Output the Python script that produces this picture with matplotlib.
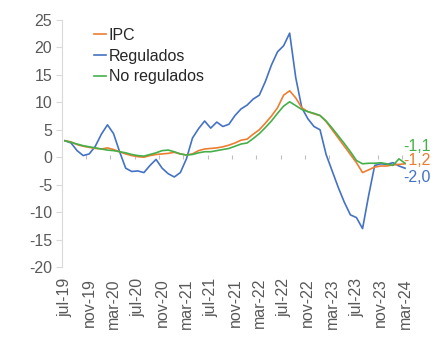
import matplotlib
matplotlib.use("Agg")
import matplotlib.pyplot as plt
import numpy as np

plt.rcParams['font.family'] = ['Liberation Sans', 'DejaVu Sans']

months_es = ["ene", "feb", "mar", "abr", "may", "jun", "jul", "ago", "sep", "oct", "nov", "dic"]
start_year, start_month = 2019, 7  # jul-19
n_points = 57  # jul-19 .. mar-24

regulados = [3.0, 2.6, 1.2, 0.3, 0.6, 2.0, 4.2, 5.9, 4.3, 1.0,
             -2.0, -2.6, -2.5, -2.8, -1.5, -0.4, -2.0, -3.0, -3.6, -2.8,
             -0.3, 3.5, 5.2, 6.6, 5.3, 6.4, 5.6, 6.0, 7.6, 8.8,
             9.5, 10.6, 11.3, 13.8, 16.8, 19.2, 20.3, 22.6, 14.5, 9.0,
             7.0, 5.6, 5.0, 0.5, -2.5, -5.5, -8.2, -10.5, -11.0, -13.0,
             -7.0, -1.5, -1.2, -1.3, -1.0, -1.6, -2.0]

ipc = [3.0, 2.8, 2.3, 2.0, 1.8, 1.6, 1.5, 1.7, 1.4, 1.0,
       0.6, 0.3, 0.1, 0.0, 0.3, 0.5, 0.6, 0.7, 0.9, 0.6,
       0.4, 0.6, 1.2, 1.5, 1.6, 1.7, 1.9, 2.2, 2.6, 3.1,
       3.3, 4.2, 5.0, 6.2, 7.5, 9.0, 11.3, 12.1, 10.8, 9.0,
       8.3, 7.9, 7.6, 6.5, 5.0, 3.5, 2.0, 0.5, -1.0, -2.8,
       -2.3, -1.8, -1.6, -1.6, -1.4, -1.3, -1.2]

no_regulados = [3.0, 2.7, 2.4, 2.1, 1.9, 1.7, 1.5, 1.3, 1.2, 1.0,
                0.8, 0.5, 0.3, 0.2, 0.5, 0.8, 1.2, 1.3, 1.0, 0.6,
                0.4, 0.5, 0.8, 1.0, 1.0, 1.2, 1.4, 1.6, 2.0, 2.4,
                2.6, 3.4, 4.3, 5.4, 6.6, 8.0, 9.3, 10.1, 9.4, 8.7,
                8.3, 8.0, 7.6, 6.6, 5.3, 3.9, 2.5, 1.0, -0.6, -1.2,
                -1.1, -1.1, -1.0, -1.2, -1.5, -0.3, -1.1]

yticks = [-20, -15, -10, -5, 0, 5, 10, 15, 20, 25]

series_names = ["IPC", "Regulados", "No regulados"]
colors = {"IPC": "#ED7D31", "Regulados": "#4472C4", "No regulados": "#45B04A"}

labels = []
for k in range(n_points):
    m = (start_month - 1 + k) % 12
    y = start_year + (start_month - 1 + k) // 12
    labels.append(f"{months_es[m]}-{y % 100:02d}")

x = np.arange(n_points)
FS = 11.5

fig = plt.figure(figsize=(4.36, 3.37), dpi=100)
ax = fig.add_axes([0.142, 0.2077, 0.794, 0.733])

data = {"IPC": ipc, "Regulados": regulados, "No regulados": no_regulados}
order = ["Regulados", "IPC", "No regulados"]
handles = {}
for name in order:
    h, = ax.plot(x, data[name], color=colors[name], lw=1.2, zorder=3)
    handles[name] = h

ax.set_xlim(-0.5, n_points - 0.5)
ax.set_ylim(-20, 25)
ax.set_yticks(yticks)
ax.set_yticklabels([str(v) for v in yticks], fontsize=FS, color="#595959")

tick_idx = np.arange(0, n_points, 4)
ax.set_xticks(tick_idx)
ax.set_xticklabels([labels[i] for i in tick_idx], rotation=90, fontsize=FS, color="#595959")
ax.tick_params(axis='x', length=0, pad=8)
ax.tick_params(axis='y', length=4, color="#D9D9D9", width=0.8, pad=3)

for s in ["top", "right", "bottom"]:
    ax.spines[s].set_visible(False)
ax.spines["left"].set_color("#D9D9D9")
ax.spines["left"].set_linewidth(0.8)

# x-axis tick marks at y = 0 (category boundaries)
bnd = np.arange(3.5, n_points, 4)
ax.plot(bnd, np.zeros_like(bnd), linestyle="none", marker="|", ms=3, color="#BFBFBF", mew=0.8, zorder=1)

leg = ax.legend([handles[n] for n in series_names], series_names, loc="upper left",
                bbox_to_anchor=(0.07, 1.0), frameon=False, fontsize=FS,
                handlelength=0.75, handletextpad=0.15, labelspacing=0.36, borderpad=0,
                labelcolor="#262626")

# end labels
end_offsets = {"No regulados": 3.1, "IPC": 0.6, "Regulados": -1.7}
for name in ["No regulados", "IPC", "Regulados"]:
    v = data[name][-1]
    txt = f"{v:.1f}".replace(".", ",")
    ax.text(x[-1] - 0.3, v + end_offsets[name], txt, color=colors[name], fontsize=FS,
            ha="left", va="center", clip_on=False, zorder=2)

fig.savefig("out.png", dpi=100)
